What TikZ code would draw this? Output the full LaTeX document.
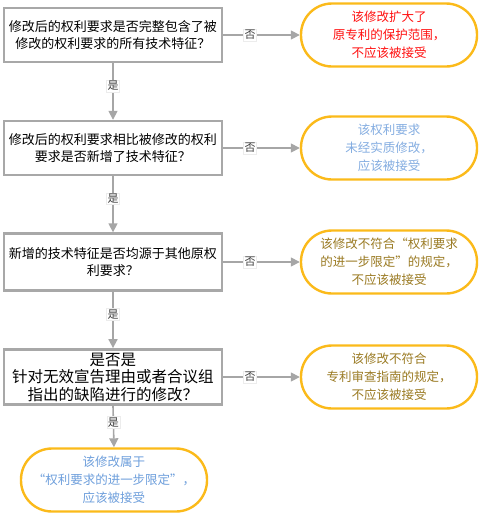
\documentclass[tikz,border=0pt]{standalone}
\usepackage{fontspec}
\setmainfont{Noto Sans CJK SC}
\usetikzlibrary{arrows.meta}

\definecolor{boxgray}{HTML}{A8A8A8}
\definecolor{linegray}{HTML}{A6A6A6}
\definecolor{ovalorange}{HTML}{FBBA1A}
\definecolor{textred}{HTML}{FF1010}
\definecolor{textblue}{HTML}{6E9FDC}
\definecolor{textgold}{HTML}{9A7A22}

\begin{document}
\begin{tikzpicture}[x=1pt,y=-1pt,
    question/.style={rectangle,draw=boxgray,line width=2.4pt,fill=white,
        minimum width=218pt,minimum height=54pt,align=center,
        font=\fontsize{13}{17}\selectfont},
    verdict/.style={rectangle,rounded corners=31pt,draw=ovalorange,line width=2.4pt,
        fill=white,minimum width=176pt,minimum height=63pt,align=center,
        font=\fontsize{12.5}{18}\selectfont},
    flow/.style={draw=linegray,line width=1.6pt,-{Triangle[length=9pt,width=9pt]}},
    answer/.style={fill=white,draw=gray!15,line width=0.3pt,inner sep=1pt,
        text=black!75,font=\fontsize{11}{11}\selectfont}]

    \useasboundingbox (0,0) rectangle (482,517);

    % first question: does the amended claim contain all features
    \node[question] (q1) at (113,35) {修改后的权利要求是否完整包含了被\\修改的权利要求的所有技术特征？};

    % scope enlarged
    \node[verdict,text=textred] (r1) at (389,35) {该修改扩大了\\原专利的保护范围，\\不应该被接受};

    %%%%%%%%%%%%%%%%%%%%%%%%%%%%%%%%%%%%%%%%%%%%%%%%%%%%%%

    % second question: new technical features added
    \node[question] (q2) at (113,148) {修改后的权利要求相比被修改的权利\\要求是否新增了技术特征？};

    % not substantially amended
    \node[verdict,text=textblue!85] (r2) at (389,148) {该权利要求\\未经实质修改，\\应该被接受};

    %%%%%%%%%%%%%%%%%%%%%%%%%%%%%%%%%%%%%%%%%%%%%%%%%%%%%%

    % third question: features taken from other claims
    \node[question,minimum height=57pt] (q3) at (113,262) {新增的技术特征是否均源于其他原权\\利要求？};

    % not a further limitation
    \node[verdict,text=textgold] (r3) at (389,262) {该修改不符合“权利要求\\的进一步限定”的规定，\\不应该被接受};

    %%%%%%%%%%%%%%%%%%%%%%%%%%%%%%%%%%%%%%%%%%%%%%%%%%%%%%

    % fourth question: amendment addresses the grounds
    \node[question,font=\fontsize{15.5}{17.5}\selectfont] (q4) at (113,377) {是否是\\针对无效宣告理由或者合议组\\指出的缺陷进行的修改？};

    % against the examination guidelines
    \node[verdict,text=textgold] (r4) at (389,377) {该修改不符合\\专利审查指南的规定，\\不应该被接受};

    % accepted as further limitation
    \node[verdict,text=textblue,minimum width=186pt] (ok) at (114,480) {该修改属于\\“权利要求的进一步限定”，\\应该被接受};

    %%%%%%%%%%%%%%%%%%%%%%%%%%%%%%%%%%%%%%%%%%%%%%%%%%%%%%

    % "no" branches
    \draw[flow] (q1.east) -- node[answer,pos=0.35] {否} (r1.west);
    \draw[flow] (q2.east) -- node[answer,pos=0.35] {否} (r2.west);
    \draw[flow] (q3.east) -- node[answer,pos=0.35] {否} (r3.west);
    \draw[flow] (q4.east) -- node[answer,pos=0.35] {否} (r4.west);

    % "yes" branches
    \draw[flow] (q1.south) -- node[answer,pos=0.4] {是} (q2.north);
    \draw[flow] (q2.south) -- node[answer,pos=0.4] {是} (q3.north);
    \draw[flow] (q3.south) -- node[answer,pos=0.4] {是} (q4.north);
    \draw[flow] (q4.south) -- node[answer,pos=0.4] {是} (ok.north);

\end{tikzpicture}
\end{document}
